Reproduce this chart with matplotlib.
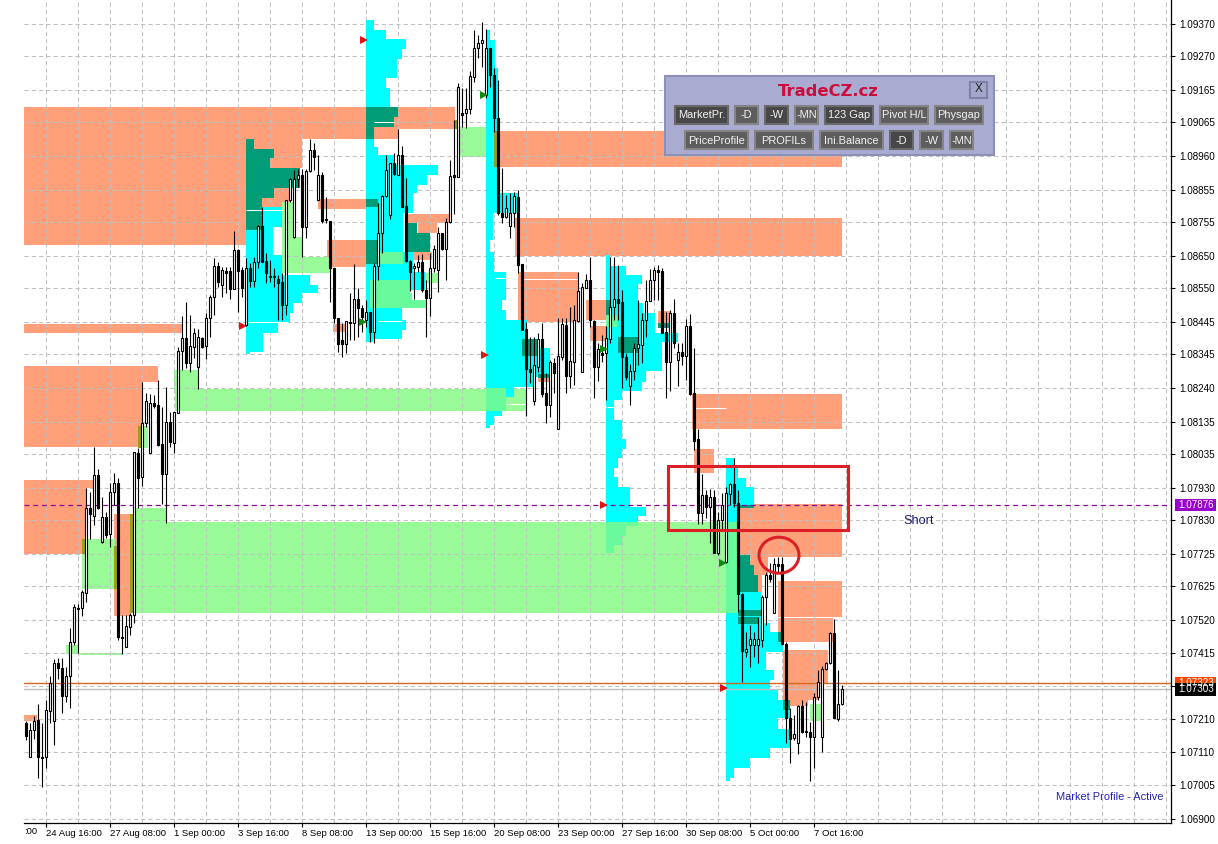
import matplotlib
matplotlib.use('Agg')
import matplotlib.pyplot as plt
import numpy as np
from matplotlib.patches import Rectangle, Ellipse

plt.rcParams['font.family'] = ['Liberation Sans', 'DejaVu Sans']

# ohlc in points (1 point = 0.00001), one candle per bar
opens = [107198,107093,107177,107208,107093,107093,107236,107205,107385,107370,
107283,107345,107450,107556,107556,107603,107867,107842,107969,107761,
107839,107786,107916,107944,107466,107435,107497,107534,108038,107963,
108131,108038,108193,108187,108065,107972,108134,108069,108162,108354,
108395,108317,108367,108305,108395,108370,108457,108522,108619,108559,
108603,108603,108547,108668,108606,108435,108612,108572,108631,108743,
108634,108587,108587,108578,108569,108497,108824,108709,108889,108901,
108740,108914,108979,108824,108901,108765,108758,108612,108457,108389,
108376,108445,108441,108516,108488,108451,108476,108413,108619,108721,
108836,108777,108938,108901,108963,108805,108634,108612,108615,108631,
108544,108519,108612,108606,108721,108671,108755,108901,108895,109094,
109094,109106,109206,109296,109311,109150,109296,109212,109078,108783,
108771,108743,108783,108833,108625,108423,108298,108199,108305,108392,
108224,108187,108317,108112,108336,108435,108277,108320,108448,108289,
108550,108575,108448,108305,108348,108348,108392,108491,108516,108507,
108336,108246,108292,108364,108373,108451,108510,108575,108606,108603,
108413,108320,108472,108326,108351,108339,108432,108224,108081,107851,
107907,107870,107901,107727,107829,107699,107910,107941,107882,107599,
107419,107441,107441,107441,107457,107590,107658,107540,107693,107693,
107444,107214,107152,107136,107251,107174,107171,107155,107279,107155,
107366,107385,107478,107211,107258]
highs = [107205,107198,107220,107258,107198,107270,107345,107398,107401,107401,
107373,107494,107568,107568,107612,107929,107916,108056,107988,107901,
107854,107944,107975,107960,107534,107534,107540,108041,108053,108258,
108224,108221,108218,108264,108180,108243,108165,108165,108367,108463,
108507,108466,108426,108423,108398,108472,108529,108643,108631,108615,
108615,108615,108727,108671,108615,108643,108628,108646,108746,108802,
108659,108637,108612,108591,108597,108824,108892,108917,108920,108920,
108920,109013,109001,108963,108911,108833,108758,108612,108457,108441,
108448,108535,108625,108550,108497,108513,108476,108628,108814,108839,
108963,108938,108970,109044,108991,108892,108637,108628,108653,108656,
108575,108659,108684,108740,108721,108768,108948,109072,109187,109172,
109172,109224,109352,109336,109377,109355,109296,109234,109196,108923,
108839,108845,108848,108855,108625,108445,108398,108398,108410,108441,
108286,108326,108333,108457,108457,108457,108491,108497,108600,108566,
108594,108646,108451,108379,108404,108432,108646,108646,108622,108544,
108348,108314,108379,108513,108472,108575,108609,108615,108622,108612,
108476,108482,108516,108379,108379,108454,108469,108364,108112,107972,
107923,107926,107923,107854,107913,107932,107944,108022,107923,107603,
107481,107503,107481,107528,107596,107668,107696,107711,107714,107714,
107450,107245,107224,107254,107270,107264,107202,107292,107363,107376,
107388,107481,107522,107363,107317]
lows = [107146,107093,107149,107028,107000,107059,107198,107130,107335,107230,
107264,107245,107441,107416,107531,107575,107770,107814,107864,107758,
107773,107745,107876,107457,107413,107435,107472,107509,107867,107935,
108118,108038,108177,108059,107879,107820,108056,108038,108162,108295,
108302,108289,108333,108236,108364,108330,108398,108466,108553,108522,
108535,108516,108547,108476,108522,108432,108553,108553,108612,108631,
108566,108569,108553,108451,108451,108466,108817,108706,108864,108646,
108706,108911,108917,108824,108752,108752,108507,108441,108351,108336,
108348,108389,108389,108398,108413,108429,108382,108379,108575,108659,
108833,108765,108901,108901,108802,108631,108541,108516,108600,108538,
108398,108463,108600,108538,108668,108575,108752,108780,108895,109050,
109047,109091,109190,109265,109237,109140,109175,109035,108777,108752,
108768,108706,108740,108597,108420,108152,108255,108187,108289,108211,
108131,108149,108224,108112,108326,108224,108239,108249,108445,108289,
108550,108429,108208,108261,108320,108202,108379,108451,108451,108239,
108264,108187,108264,108311,108317,108398,108510,108513,108513,108410,
108208,108230,108364,108246,108311,108264,108218,108047,107817,107817,
107836,107758,107727,107721,107798,107696,107876,107870,107544,107326,
107404,107373,107404,107385,107435,107503,107637,107540,107665,107441,
107136,107074,107146,107102,107168,107155,107018,107059,107270,107108,
107363,107382,107214,107205,107254]
closes = [107158,107177,107205,107093,107090,107239,107323,107385,107370,107283,
107345,107450,107559,107553,107606,107867,107848,107969,107867,107839,
107783,107916,107944,107466,107463,107500,107534,108041,107960,108131,
108199,108193,108184,108062,107972,108134,108072,108165,108354,108395,
108317,108370,108410,108398,108367,108457,108522,108619,108569,108606,
108597,108547,108668,108603,108550,108612,108572,108631,108743,108631,
108597,108584,108584,108566,108497,108824,108889,108889,108901,108740,
108914,108979,108957,108901,108758,108761,108612,108457,108376,108376,
108448,108441,108516,108488,108460,108476,108413,108619,108721,108836,
108917,108938,108904,108963,108802,108634,108600,108619,108631,108544,
108519,108612,108671,108721,108671,108755,108898,108895,109175,109088,
109106,109209,109296,109311,109321,109296,109212,109078,108783,108771,
108799,108783,108836,108622,108420,108298,108289,108311,108392,108221,
108187,108320,108286,108339,108438,108277,108323,108451,108541,108553,
108575,108451,108305,108361,108342,108395,108491,108516,108504,108336,
108274,108292,108364,108376,108451,108510,108575,108606,108600,108410,
108320,108472,108379,108351,108339,108432,108221,108075,107851,107907,
107870,107901,107727,107829,107876,107913,107941,107882,107599,107422,
107429,107460,107460,107460,107590,107658,107646,107693,107687,107444,
107214,107149,107164,107251,107171,107171,107155,107279,107326,107366,
107385,107478,107214,107258,107304]

# zones: first bar, last bar, top price, bottom price
orange_zones = [(-0.5,55,109112,108684),(55,93,109112,109013),(93,107.25,109112,109044),
(61,69,109013,108923),(57,61,109013,108982),(59,66,108861,108802),(73,85,108827,108796),
(75.25,85,108699,108615),(76.75,80,108438,108413),(95.25,106,108780,108752),
(98,102.75,108752,108721),(96.75,101.5,108662,108637),(116.75,204,109038,108926),
(122.25,204,108768,108650),(123,138,108600,108445),(140,145.25,108513,108451),
(141,145.25,108432,108386),(158,161,108479,108441),(128,131,108271,108258),
(166.5,204,108221,108112),(167,172,108050,107975),(178,204,107879,107714),
(179,185.5,107714,107658),(181,184,107658,107606),(188,204,107640,107528),
(188,201.75,107525,107450),(189.25,200.5,107425,107323),(189.25,198,107323,107270),
(190,195.5,107270,107251),(-0.5,33,108308,108258),(-0.5,29,108258,108056),
(-0.5,39,108438,108410),(-0.5,16.75,107954,107929),(-0.5,15.25,107929,107770),
(-0.5,14,107770,107724),(22,26,107848,107531),(-0.5,2.75,107223,107205)]
green_zones = [(26,175,107823,107540),(27,35,107867,107823),(14,22.25,107770,107615),
(37.25,125.25,108236,108168),(37,43,108295,108236),(28,30.5,108121,108053),
(10,13,107441,107413),(13,24,107416,107411),(108,117.25,109050,108957),
(64,66.75,108817,108709),(64,69.25,108709,108646),(64,76,108646,108597),
(94.25,103,108597,108566),(196,198.75,107258,107205)]
mint_zones = [(87.75,94.25,108662,108625),(86,96,108575,108535),(86,96.5,108535,108488),
(91,100.25,108513,108488),(115,120,108239,108168),(145,153,107823,107810),
(145,150,107810,107780),(145,149,107780,107752),(145,147,107752,107727),
(175,178,107823,107540),(145,147.75,108466,108429)]
olive_zones = [(28,29,108121,108053),(14,15,107770,107724),(22,22.75,107749,107615),
(26,27,107848,107540),(107.25,108.25,109072,109044),(117,117.75,109038,108926)]
dark_zones = [(55,57,109013,108982),(55,62,108982,108954),(55,61,108954,108923),
(55,68.5,108923,108861),(55,62,108861,108830),(55,59,108830,108730),(85,93,109113,109081),
(85,92,109081,109050),(85,87,109050,109013),(85,88,108827,108802),(85,87.75,108699,108625),
(95.25,97.75,108752,108721),(95.25,101,108721,108662),(124,127.75,108392,108339),
(128,130.75,108283,108271),(148,153,108398,108348),(145,146.25,108513,108451),
(158,161,108441,108425),(177,181,107721,107689),(177,182,107689,107658),
(177,183,107658,107606),(178,183.75,107550,107531),(178,183,107528,107506),
(178,182,107876,107867),(188,189,107481,107450),(189.25,191,107270,107239)]

# thin white gaps inside the zones: first bar, last bar, price
white_gaps = [(55,64,108793),(55.5,65.5,108445),(117.25,120,108581),(88,94,108448),
(87,92,109066),(120,125,108190),(145,147,108180),(166.5,175,108177),(124,138,108578)]

# volume profiles: start bar, price edges, right end of each row
profile_starts = [55, 85, 115, 145, 175]
profile_edges = [
    [108802,108740,108653,108591,108559,108535,108504,108472,108441,108410,108351,108345],
    [109383,109352,109324,109293,109262,109203,109172,109113,109081,109050,109013,108988,
     108963,108932,108901,108870,108845,108783,108662,108600,108544,108513,108482,108451,
     108420,108392,108382],
    [109352,109321,109234,108845,108783,108699,108662,108600,108513,108482,108451,108364,
     108274,108243,108211,108168,108152,108125,108115],
    [108653,108619,108591,108563,108504,108472,108410,108382,108292,108258,108230,108202,
     108140,108081,108050,108022,107991,107963,107932,107870,107842,107823],
    [108022,107991,107960,107932,107867,107606,107509,107481,107450,107419,107363,107332,
     107301,107270,107214,107180,107121,107090,107059,107028,107018]]
profile_ends = [
    [64,61.75,64,71,73,69,66.75,66,63,59.25,56],
    [87,90,95,94,92.75,90,91,93,92,87,87,88,92.25,103,100.25,97.75,96.75,94.25,96.75,99.75,
     94,94,94,95,94,86.75],
    [116,117.25,118,123,116.75,116,117,120,119,120,125.25,131,126.75,122,120,119,117,116],
    [146,150,154,153,154.25,157.25,163,159,155,154,149,147,149,150,149,148,147,148,151,155,153],
    [177,178,180,182,178,183.75,186,188,189.25,185,187,186,188,191,188,191,186,181,177,176]]

red_arrows = [(84.5,109321),(54.25,108432),(114.75,108342),(144.5,107876),(174.5,107307)]
green_arrows = [(114.5,109150),(84.25,108445),(144.5,108361),(174.25,107696)]

y_ticks = [1.09370,1.09270,1.09165,1.09065,1.08960,1.08855,1.08755,1.08650,1.08550,1.08445,
           1.08345,1.08240,1.08135,1.08035,1.07930,1.07830,1.07725,1.07625,1.07520,1.07415,
           1.07315,1.07210,1.07110,1.07005,1.06900]
x_labels = ['24 Aug 16:00','27 Aug 08:00','1 Sep 00:00','3 Sep 16:00','8 Sep 08:00',
            '13 Sep 00:00','15 Sep 16:00','20 Sep 08:00','23 Sep 00:00','27 Sep 16:00',
            '30 Sep 08:00','5 Oct 00:00','7 Oct 16:00']

short_level = 1.07876
bid_level = 1.07303
ask_level = 1.07323

W, H = 1218, 844
fig = plt.figure(figsize=(W/100, H/100), dpi=100, facecolor='white')
ax = fig.add_axes([24/W, (H-823)/H, (1171-24)/W, 823/H])
ax.set_xlim(-0.5, 286.25)
ax.set_ylim(1.06888, 1.09445)

P = 1e-5

def draw_zones(zones, color, z):
    for b0, b1, hi, lo in zones:
        ax.bar(b0, (hi-lo)*P, width=b1-b0, bottom=lo*P, align='edge', color=color,
               linewidth=0, zorder=z)

draw_zones(orange_zones, '#ffa07a', 1.0)
draw_zones(green_zones, '#98fb98', 1.1)

for start, edges, ends in zip(profile_starts, profile_edges, profile_ends):
    edges = np.array(edges)*P
    ax.barh(edges[1:], np.array(ends)-start, height=edges[:-1]-edges[1:], left=start,
            align='edge', color='#00ffff', linewidth=0, zorder=1.6)

draw_zones(dark_zones, '#009b77', 1.7)
draw_zones(mint_zones, '#69fb9b', 1.8)
draw_zones(olive_zones, '#9c9c1e', 1.8)

for b0, b1, p in white_gaps:
    ax.hlines(p*P, b0, b1, color='white', linewidth=0.75, zorder=1.9)

# candles
bars = np.arange(len(opens))
o = np.array(opens)*P
c = np.array(closes)*P
ax.vlines(bars, np.array(lows)*P, np.array(highs)*P, color='black', linewidth=0.8, zorder=3)
body_colors = ['white' if cl >= op else 'black' for op, cl in zip(o, c)]
ax.bar(bars, np.abs(c-o), bottom=np.minimum(o, c), width=0.62, color=body_colors,
       edgecolor='black', linewidth=0.8, zorder=4)

for arrows, col in [(red_arrows, '#dd1515'), (green_arrows, '#128a12')]:
    for b, p in arrows:
        ax.plot(b, p*P, marker='>', ms=6, color=col, mew=0, zorder=5)
        ax.plot(b-0.6, p*P, marker='s', ms=2.5, color=col, mew=0, zorder=5)

# levels
ax.axhline(short_level, color='#8b0a9b', linewidth=0.9, linestyle=(0, (4, 3)), zorder=2)
ax.axhline(ask_level, color='#d2691e', linewidth=1.0, zorder=2.2)
ax.axhline(bid_level, color='#c0c0c0', linewidth=1.0, zorder=2)

# ticks and grid, the 1.07315 label sits under the price tags
ax.set_yticks(y_ticks)
ax.set_yticklabels(['' if t == 1.07315 else '%.5f' % t for t in y_ticks])
major = np.arange(5, 198, 16)
ax.set_xticks(major)
ax.set_xticklabels(x_labels, ha='left')
ax.set_xticks(np.setdiff1d(np.arange(5, 286, 8), major), minor=True)
ax.yaxis.tick_right()
ax.tick_params(axis='y', length=3, width=0.8, pad=3, labelsize=7.1)
ax.tick_params(axis='x', which='major', length=3, width=0.8, pad=1.5, labelsize=6.8)
ax.tick_params(axis='x', which='minor', length=0)
ax.grid(True, which='both', color='#c0c0c0', linewidth=0.75, linestyle=(0, (4, 3)))
ax.set_axisbelow('line')
for s in ['left', 'top']:
    ax.spines[s].set_visible(False)
for s in ['right', 'bottom']:
    ax.spines[s].set_linewidth(0.9)
ax.text(-0.5, -0.0105, ':00', transform=ax.get_xaxis_transform(), fontsize=6.8, ha='left', va='center')

# red markup
ax.add_patch(Rectangle((160.5, 1.07798), 45, 0.00199, fill=False, edgecolor='#dc1f26',
                       linewidth=2.2, zorder=6))
ax.add_patch(Ellipse((188.25, 1.07720), 10, 0.00112, fill=False, edgecolor='#dc1f26',
                     linewidth=2.2, zorder=6))

# price tags on the right scale
tr = ax.get_yaxis_transform()
for level, txt, col in [(short_level, '1.07876', '#9900cc'),
                        (ask_level, '1.07323', '#ff4500'),
                        (bid_level, '1.07303', 'black')]:
    ax.add_patch(Rectangle((1.0035, level-0.00019), 0.0357, 0.00038, transform=tr, color=col,
                           linewidth=0, clip_on=False, zorder=7))
    ax.text(1.0063, level, txt, transform=tr, color='white', fontsize=7.1, va='center', ha='left',
            clip_on=False, zorder=8)

# overlay in pixels for the panel and the notes
ov = fig.add_axes([0, 0, 1, 1], facecolor='none')
ov.set_xlim(0, W)
ov.set_ylim(H, 0)
ov.axis('off')
ov.text(903, 521, 'Short', color='#191970', fontsize=9.2, va='center', ha='left')
ov.text(1056, 797, 'Market Profile - Active', color='#2222b4', fontsize=7.95, va='center', ha='left')

ov.add_patch(Rectangle((664.5, 75.5), 329, 79, facecolor='#a9abd1', edgecolor='#8d8fb4', linewidth=1.5))
ov.text(828, 91, 'TradeCZ.cz', color='#cc0a3c', fontsize=11.8, fontweight='bold',
        family='DejaVu Sans', ha='center', va='center')
ov.add_patch(Rectangle((970, 81.5), 17, 16, facecolor='#a4a6cc', edgecolor='#7f81a6', linewidth=1.5))
ov.text(978.5, 89.5, 'X', color='#202020', fontsize=8.5, ha='center', va='center')

buttons = [('MarketPr.', 674, 729, 105, True), ('-D', 734, 759, 105, False), ('-W', 764, 789, 105, True),
           ('-MN', 794, 819, 105, False), ('123 Gap', 824, 874, 105, True), ('Pivot H/L', 879, 929, 105, False),
           ('Physgap', 934, 984, 105, False), ('PriceProfile', 684, 749, 130, False), ('PROFILs', 754, 814, 130, False),
           ('Ini.Balance', 819, 884, 130, False), ('-D', 889, 914, 130, True), ('-W', 919, 944, 130, False),
           ('-MN', 949, 974, 130, False)]
for label, x0, x1, y0, active in buttons:
    face = '#474747' if active else '#5e5e5e'
    edge = '#6a6a6a' if active else '#858585'
    ov.add_patch(Rectangle((x0+1, y0+1), x1-x0-2, 18, facecolor=face, edgecolor=edge, linewidth=1.5))
    ov.text((x0+x1)/2, y0+10.5, label, color='#f2f2f2', fontsize=7.9, ha='center', va='center')

fig.savefig('out.png', dpi=100)
